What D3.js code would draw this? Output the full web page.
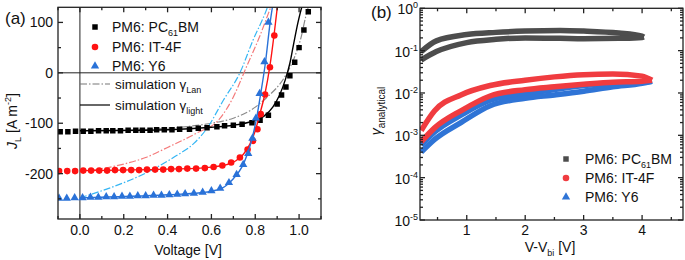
<!DOCTYPE html>
<html>
<head>
<meta charset="utf-8">
<script src="https://cdn.jsdelivr.net/npm/d3@7"></script>
<style>
  body { margin: 0; background: #fff; }
  text { font-family: "Liberation Sans", Arial, sans-serif; fill: #111; }
</style>
</head>
<body>
<svg id="chart" width="685" height="260"></svg>
<script>
// ---------- data, panel (a): J-V curves ----------
const pcbmV = [-0.09,-0.055,-0.02,0.015,0.05,0.085,0.12,0.15,0.185,0.22,0.255,0.285,0.32,0.35,0.385,0.42,0.455,0.5,0.54,0.58,0.625,0.66,0.7,0.74,0.785,0.822,0.86,0.9,0.92,0.94,0.958,0.98,1.0,1.022,1.042];
const pcbmJ = [-117,-117,-116,-116,-116,-115,-115,-115,-115,-114,-114,-114,-114,-113,-113,-113,-112,-112,-110,-109,-107,-105,-104,-102,-99,-94,-84,-62,-44,-28,-6,21,50,85,121];

const it4fV = [-0.095,-0.058,-0.022,0.015,0.051,0.088,0.124,0.16,0.197,0.234,0.27,0.306,0.343,0.38,0.416,0.452,0.49,0.53,0.57,0.61,0.65,0.69,0.73,0.765,0.79,0.81,0.825,0.845,0.867,0.887];
const it4fJ = [-195,-195,-195,-194,-194,-194,-194,-193,-193,-193,-193,-192,-192,-192,-191,-191,-190,-190,-189,-187,-184,-178,-168,-152,-135,-112,-82,-43,11,74];

const y6V = [-0.095,-0.06,-0.024,0.012,0.048,0.084,0.12,0.156,0.192,0.228,0.264,0.3,0.336,0.372,0.408,0.444,0.48,0.52,0.56,0.6,0.64,0.68,0.715,0.745,0.768,0.787,0.803,0.82,0.842,0.86];
const y6J = [-249,-249,-248,-248,-247,-247,-246,-246,-245,-245,-244,-244,-243,-243,-242,-241,-240,-239,-237,-234,-229,-218,-202,-182,-160,-130,-90,-41,22,100];

// simulation with gamma_light (solid)
const lightPcbmV = [0,0.3,0.5,0.6,0.7,0.78,0.84,0.88,0.91,0.937,0.958,0.975,0.995,1.015];
const lightPcbmJ = [-115,-114,-111,-108,-104,-97,-86,-68,-45,-14,19,57,100,135];
const lightIt4fV = [0,0.4,0.55,0.62,0.67,0.71,0.745,0.775,0.8,0.822,0.845,0.867,0.886,0.902];
const lightIt4fJ = [-194,-191,-189,-186,-182,-175,-162,-142,-115,-80,-40,14,76,135];
const lightY6V = [0,0.4,0.55,0.62,0.66,0.7,0.74,0.765,0.787,0.806,0.825,0.847,0.868,0.88];
const lightY6J = [-248,-242,-238,-233,-226,-210,-186,-160,-128,-90,-41,22,100,135];

// simulation with gamma_Lan (dash-dot)
const lanPcbmV = [0,0.2,0.4,0.5,0.6,0.7,0.78,0.85,0.94,0.98,1.01,1.03,1.045];
const lanPcbmJ = [-115,-114,-110,-106,-100,-90,-74,-50,-4,32,72,111,135];
const lanIt4fV = [0,0.1,0.2,0.3,0.4,0.53,0.64,0.7,0.76,0.82,0.86,0.875];
const lanIt4fJ = [-195,-190,-181,-168,-148,-120,-90,-48,12,72,118,135];
const lanY6V = [0,0.1,0.2,0.3,0.43,0.52,0.58,0.655,0.73,0.79,0.845,0.86];
const lanY6J = [-248,-234,-218,-199,-167,-140,-110,-54,0,65,118,135];

const xTicksA = [0, 0.2, 0.4, 0.6, 0.8, 1.0];
const xMinorA = [-0.1, 0.1, 0.3, 0.5, 0.7, 0.9, 1.1];
const yTicksA = [-200, -100, 0, 100];
const yMinorA = [-250, -150, -50, 50];

// ---------- data, panel (b): gamma analytical (two scan branches each) ----------
const pcbmUpX = [0.22,0.48,1.0,1.5,2.0,2.6,3.0,3.6,4.0,4.03];
const pcbmUpY = [0.095,0.17,0.24,0.27,0.29,0.3,0.29,0.26,0.22,0.21];
const pcbmLoX = [0.22,0.48,1.0,1.5,2.0,2.6,3.0,3.6,4.0,4.03];
const pcbmLoY = [0.06,0.095,0.155,0.185,0.2,0.195,0.19,0.195,0.205,0.21];

const it4fUpX = [0.22,0.45,0.9,1.4,2.0,2.5,3.0,3.5,4.0,4.17];
const it4fUpY = [0.0013,0.0038,0.009,0.015,0.02,0.024,0.027,0.028,0.025,0.02];
const it4fLoX = [0.22,0.45,0.9,1.4,2.0,2.5,3.0,3.5,4.0,4.17];
const it4fLoY = [0.0007,0.0015,0.0038,0.0085,0.012,0.014,0.016,0.018,0.019,0.02];

const y6UpX = [0.22,0.45,0.9,1.4,2.0,2.5,3.0,3.5,4.0,4.17];
const y6UpY = [0.0006,0.0012,0.003,0.0068,0.0095,0.012,0.015,0.017,0.018,0.019];
const y6LoX = [0.22,0.45,0.9,1.4,2.0,2.5,3.0,3.5,4.0,4.17];
const y6LoY = [0.0004,0.0008,0.002,0.005,0.0075,0.009,0.011,0.014,0.017,0.019];

const xTicksB = [1, 2, 3, 4];
const xMinorB = [0.5, 1.5, 2.5, 3.5, 4.5];
const yDecadesB = [-5, -4, -3, -2, -1, 0];

const zip = (xs, ys) => xs.map((x, i) => [x, ys[i]]);

const svg = d3.select("#chart");

// draws the box plus inward ticks on all four sides
function drawFrame(x, y, xMaj, xMin, yMaj, yMin) {
  const [x0, x1] = x.range(), [y0, y1] = y.range();
  const g = svg.append("g").attr("stroke", "#222").attr("stroke-width", 1.3);
  g.append("rect")
    .attr("x", x0).attr("y", y1).attr("width", x1 - x0).attr("height", y0 - y1)
    .attr("fill", "none");
  const tick = (vals, len, isX) => {
    vals.forEach(v => {
      if (isX) {
        const p = x(v);
        g.append("line").attr("x1", p).attr("x2", p).attr("y1", y0).attr("y2", y0 - len);
        g.append("line").attr("x1", p).attr("x2", p).attr("y1", y1).attr("y2", y1 + len);
      } else {
        const p = y(v);
        g.append("line").attr("y1", p).attr("y2", p).attr("x1", x0).attr("x2", x0 + len);
        g.append("line").attr("y1", p).attr("y2", p).attr("x1", x1).attr("x2", x1 - len);
      }
    });
  };
  tick(xMaj, 5, true); tick(xMin, 3, true);
  tick(yMaj, 5, false); tick(yMin, 3, false);
}

function clipFor(id, x, y) {
  const [x0, x1] = x.range(), [y0, y1] = y.range();
  svg.append("clipPath").attr("id", id).append("rect")
    .attr("x", x0).attr("y", y1).attr("width", x1 - x0).attr("height", y0 - y1);
}

const symSquare = d3.symbol().type(d3.symbolSquare).size(30);
const symCircle = d3.symbol().type(d3.symbolCircle).size(34);
const symTri = d3.symbol().type(d3.symbolTriangle).size(30);

// ================= panel (a) =================
const xA = d3.scaleLinear().domain([-0.1, 1.1]).range([58, 321]);
const yA = d3.scaleLinear().domain([-290, 130]).range([219, 7.3]);
clipFor("clipA", xA, yA);

// zero lines
svg.append("line").attr("x1", xA(-0.1)).attr("x2", xA(1.1)).attr("y1", yA(0)).attr("y2", yA(0))
  .attr("stroke", "#222").attr("stroke-width", 1);
svg.append("line").attr("x1", xA(0)).attr("x2", xA(0)).attr("y1", yA(130)).attr("y2", yA(-290))
  .attr("stroke", "#222").attr("stroke-width", 1);

const lineA = d3.line().x(d => xA(d[0])).y(d => yA(d[1])).curve(d3.curveMonotoneX);
const plotA = svg.append("g").attr("clip-path", "url(#clipA)");

const dashDot = "7,2,1.5,2";
[[lanPcbmV, lanPcbmJ, "#8a8a8a"], [lanIt4fV, lanIt4fJ, "#f47a7a"], [lanY6V, lanY6J, "#36b6f4"]]
  .forEach(([v, j, c]) => {
    plotA.append("path").attr("d", lineA(zip(v, j)))
      .attr("fill", "none").attr("stroke", c).attr("stroke-width", 1.2)
      .attr("stroke-dasharray", dashDot);
  });

const markerSets = [
  [pcbmV, pcbmJ, "#000", symSquare, lightPcbmV, lightPcbmJ],
  [it4fV, it4fJ, "#ff1212", symCircle, lightIt4fV, lightIt4fJ],
  [y6V, y6J, "#2a72d8", symTri, lightY6V, lightY6J]
];
markerSets.forEach(([v, j, c, sym, lv, lj]) => {
  plotA.append("g").selectAll("path")
    .data(zip(v, j))
    .join("path")
      .attr("d", sym())
      .attr("transform", d => `translate(${xA(d[0])},${yA(d[1])})`)
      .attr("fill", c);
  plotA.append("path").attr("d", lineA(zip(lv, lj)))
    .attr("fill", "none").attr("stroke", c).attr("stroke-width", 1.4);
});

drawFrame(xA, yA, xTicksA, xMinorA, yTicksA, yMinorA);

// tick labels
svg.append("g").selectAll("text")
  .data(xTicksA)
  .join("text")
    .attr("x", d => xA(d)).attr("y", 235)
    .attr("text-anchor", "middle").attr("font-size", 14)
    .text(d => d.toFixed(1));
svg.append("g").selectAll("text")
  .data(yTicksA)
  .join("text")
    .attr("x", 53).attr("y", d => yA(d) + 5)
    .attr("text-anchor", "end").attr("font-size", 14)
    .text(d => d);

svg.append("text").attr("x", 188).attr("y", 255).attr("text-anchor", "middle")
  .attr("font-size", 14).text("Voltage [V]");

const yLabA = svg.append("text")
  .attr("transform", "translate(17,121) rotate(-90)")
  .attr("text-anchor", "middle").attr("font-size", 14);
yLabA.append("tspan").attr("font-style", "italic").text("J");
yLabA.append("tspan").attr("font-size", 9).attr("dy", 4).text("L");
yLabA.append("tspan").attr("dy", -4).text(" [A m");
yLabA.append("tspan").attr("font-size", 9).attr("dy", -6).text("-2");
yLabA.append("tspan").attr("dy", 6).text("]");

svg.append("text").attr("x", 5).attr("y", 24).attr("font-size", 17).text("(a)");

// legend (a)
const legA = svg.append("g");
const legRows = [
  [symSquare, "#000", 27, ["PM6: PC", "61", "BM"]],
  [symCircle, "#ff1212", 47, ["PM6: IT-4F"]],
  [symTri, "#2a72d8", 66, ["PM6: Y6"]]
];
function legendText(g, x, y, parts, size) {
  const t = g.append("text").attr("x", x).attr("y", y).attr("font-size", size);
  t.append("tspan").text(parts[0]);
  if (parts.length > 1) {
    t.append("tspan").attr("font-size", 9).attr("dy", 4).text(parts[1]);
    t.append("tspan").attr("dy", -4).text(parts[2]);
  }
  return t;
}
legRows.forEach(([sym, c, y, parts]) => {
  legA.append("path").attr("d", sym()).attr("transform", `translate(95,${y})`).attr("fill", c);
  legendText(legA, 112, y + 5, parts, 14);
});
legA.append("line").attr("x1", 80).attr("x2", 110).attr("y1", 84).attr("y2", 84)
  .attr("stroke", "#777").attr("stroke-width", 1.2).attr("stroke-dasharray", dashDot);
legA.append("line").attr("x1", 80).attr("x2", 110).attr("y1", 105).attr("y2", 105)
  .attr("stroke", "#000").attr("stroke-width", 1.2);
[[84, "Lan"], [105, "light"]].forEach(([y, sub]) => {
  const t = legA.append("text").attr("x", 115).attr("y", y + 5).attr("font-size", 13.5);
  t.append("tspan").text("simulation γ");
  t.append("tspan").attr("font-size", 9).attr("dy", 4).text(sub);
});

// ================= panel (b) =================
const xB = d3.scaleLinear().domain([0.2, 4.7]).range([420, 683]);
const yB = d3.scaleLog().domain([1e-5, 1]).range([220, 8.3]);
clipFor("clipB", xB, yB);

const lineB = d3.line().x(d => xB(d[0])).y(d => yB(d[1])).curve(d3.curveMonotoneX);
const plotB = svg.append("g").attr("clip-path", "url(#clipB)");

// blue drawn first so the red lower branch sits on top of it
const bands = [
  [pcbmUpX, pcbmUpY, "#4d4d4d"], [pcbmLoX, pcbmLoY, "#4d4d4d"],
  [y6UpX, y6UpY, "#2f74d6"], [y6LoX, y6LoY, "#2f74d6"],
  [it4fUpX, it4fUpY, "#f03c40"], [it4fLoX, it4fLoY, "#f03c40"]
];
bands.forEach(([xs, ys, c]) => {
  plotB.append("path").attr("d", lineB(zip(xs, ys)))
    .attr("fill", "none").attr("stroke", c).attr("stroke-width", 5.5);
});

const yMajB = yDecadesB.map(e => Math.pow(10, e));
const yMinB = yB.ticks().filter(v => !yMajB.some(m => Math.abs(m - v) / m < 1e-6));
drawFrame(xB, yB, xTicksB, xMinorB, yMajB, yMinB);

svg.append("g").selectAll("text")
  .data(xTicksB)
  .join("text")
    .attr("x", d => xB(d)).attr("y", 235)
    .attr("text-anchor", "middle").attr("font-size", 14)
    .text(d => d);
svg.append("g").selectAll("text")
  .data(yDecadesB)
  .join("text")
    .attr("x", 418).attr("y", d => yB(Math.pow(10, d)) + 6)
    .attr("text-anchor", "end").attr("font-size", 14)
    .each(function(d) {
      const t = d3.select(this);
      t.append("tspan").text("10");
      t.append("tspan").attr("font-size", 9).attr("dy", -6).text(d);
    });

const xLabB = svg.append("text").attr("x", 550).attr("y", 252)
  .attr("text-anchor", "middle").attr("font-size", 14);
xLabB.append("tspan").text("V-V");
xLabB.append("tspan").attr("font-size", 9).attr("dy", 4).text("bi");
xLabB.append("tspan").attr("dy", -4).text(" [V]");

const yLabB = svg.append("text")
  .attr("transform", "translate(381,111) rotate(-90)")
  .attr("text-anchor", "middle").attr("font-size", 14);
yLabB.append("tspan").attr("font-style", "italic").text("γ");
yLabB.append("tspan").attr("font-size", 10).attr("dy", 4).text("analytical");

svg.append("text").attr("x", 371).attr("y", 18).attr("font-size", 17).text("(b)");

// legend (b)
const legB = svg.append("g");
[[symSquare, "#4d4d4d", 159, ["PM6: PC", "61", "BM"]],
 [symCircle, "#f03c40", 178, ["PM6: IT-4F"]],
 [symTri, "#2f74d6", 197, ["PM6: Y6"]]].forEach(([sym, c, y, parts]) => {
  legB.append("path").attr("d", sym()).attr("transform", `translate(566,${y})`).attr("fill", c);
  legendText(legB, 585, y + 5, parts, 14);
});
</script>
</body>
</html>
